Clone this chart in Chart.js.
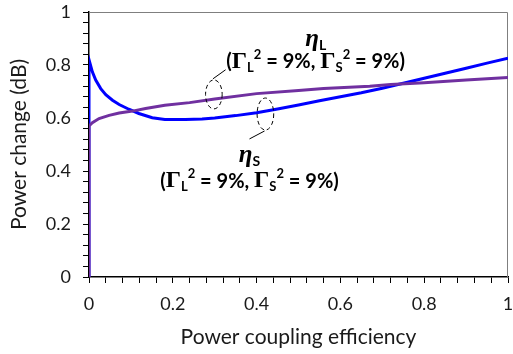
<!DOCTYPE html>
<html>
<head>
<meta charset="utf-8">
<script src="https://cdn.jsdelivr.net/npm/chart.js@4/dist/chart.umd.min.js"></script>
<style>
  html, body { margin: 0; padding: 0; background: #fff; }
  #wrap { width: 513px; height: 354px; }
</style>
</head>
<body>
<div id="wrap"><canvas id="chart" width="513" height="354"></canvas></div>
<script>
// η_S (blue): power change vs coupling efficiency
const etaSX = [0, 0, 0.008, 0.016, 0.028, 0.04, 0.056, 0.072, 0.095, 0.119, 0.151, 0.181, 0.23, 0.27, 0.3, 0.35, 0.4, 0.45, 0.5, 0.55, 0.6, 0.65, 0.7, 0.75, 0.8, 0.85, 0.9, 0.95, 1]
const etaSY = [0, 0.82, 0.774, 0.743, 0.711, 0.688, 0.667, 0.651, 0.633, 0.617, 0.601, 0.594, 0.594, 0.596, 0.600, 0.609, 0.620, 0.634, 0.649, 0.665, 0.680, 0.695, 0.712, 0.731, 0.750, 0.769, 0.788, 0.807, 0.826]

// η_L (purple)
const etaLX = [0, 0, 0.008, 0.024, 0.048, 0.072, 0.104, 0.135, 0.181, 0.24, 0.3, 0.4, 0.5, 0.56, 0.67, 0.72, 0.8, 0.9, 1]
const etaLY = [0, 0.570, 0.582, 0.598, 0.610, 0.619, 0.626, 0.636, 0.648, 0.658, 0.672, 0.692, 0.704, 0.711, 0.720, 0.726, 0.733, 0.743, 0.753]

const xMajorTicks = [0, 0.2, 0.4, 0.6, 0.8, 1]
const yMajorTicks = [0, 0.2, 0.4, 0.6, 0.8, 1]
const minorStep = 0.04

// callout labels, in data units
const calloutL = { text: [0.541, 0.895], line: [0.541, 0.812], ring: [0.298, 0.689], lead: [[0.296, 0.748], [0.326, 0.782]] }
const calloutS = { text: [0.383, 0.460], line: [0.383, 0.362], ring: [0.421, 0.615], lead: [[0.419, 0.551], [0.383, 0.521]] }

const FONT = 'Lato, "Open Sans", sans-serif'

const isMajor = (v, list) => list.some(m => Math.abs(m - v) < 1e-6)

// draws a run of [text, style] pieces centred on x
function richText(ctx, pieces, cx, cy) {
  const styles = {
    b:     { font: `bold 20px ${FONT}`, dy: 0 },
    g:     { font: 'bold 24px "Liberation Serif", serif', dy: 0 },
    sub:   { font: `bold 13px ${FONT}`, dy: 6 },
    sup:   { font: `bold 13px ${FONT}`, dy: -7 },
    eta:   { font: 'italic bold 25px "Liberation Serif", serif', dy: 0 },
    etaSub:{ font: `bold 14px ${FONT}`, dy: 6 },
  }
  let total = 0
  const widths = pieces.map(([t, s]) => {
    ctx.font = styles[s].font
    const w = ctx.measureText(t).width
    total += w
    return w
  })
  let x = cx - total / 2
  ctx.textBaseline = 'middle'
  ctx.textAlign = 'left'
  pieces.forEach(([t, s], i) => {
    ctx.font = styles[s].font
    ctx.fillText(t, x, cy + styles[s].dy)
    x += widths[i]
  })
}

function gammaPieces() {
  return [['(', 'b'], ['Γ', 'g'], ['L', 'sub'], ['2', 'sup'], [' = 9%, ', 'b'], ['Γ', 'g'], ['S', 'sub'], ['2', 'sup'], [' = 9%)', 'b']]
}

const frame = {
  id: 'frame',
  beforeDatasetsDraw(chart) {
    const { ctx, chartArea: a } = chart
    ctx.save()
    ctx.strokeStyle = '#7f7f7f'
    ctx.lineWidth = 1
    ctx.beginPath()
    ctx.moveTo(a.left, a.top + 0.5)
    ctx.lineTo(a.right - 0.5, a.top + 0.5)
    ctx.lineTo(a.right - 0.5, a.bottom)
    ctx.stroke()
    ctx.restore()
  },
}

const callouts = {
  id: 'callouts',
  afterDatasetsDraw(chart) {
    const { ctx, scales: { x, y } } = chart
    const px = p => [x.getPixelForValue(p[0]), y.getPixelForValue(p[1])]
    ctx.save()
    ctx.fillStyle = '#000'
    for (const [c, sub, ry] of [[calloutL, 'L', 14.5], [calloutS, 'S', 16]]) {
      const [tx, ty] = px(c.text)
      richText(ctx, [['η', 'eta'], [sub, 'etaSub']], tx, ty)
      const [lx, ly] = px(c.line)
      richText(ctx, gammaPieces(), lx, ly)

      ctx.strokeStyle = '#000'
      ctx.lineWidth = 1
      ctx.setLineDash([4, 3])
      const [ex, ey] = px(c.ring)
      ctx.beginPath()
      ctx.ellipse(ex, ey, 8.3, ry, 0, 0, Math.PI * 2)
      ctx.stroke()
      ctx.setLineDash([])
      const [a0, a1] = c.lead.map(px)
      ctx.beginPath()
      ctx.moveTo(a0[0], a0[1])
      ctx.lineTo(a1[0], a1[1])
      ctx.stroke()
    }
    ctx.restore()
  },
}

const toPoints = (xs, ys) => xs.map((v, i) => ({ x: v, y: ys[i] }))

new Chart(document.getElementById('chart').getContext('2d'), {
  type: 'scatter',
  data: {
    datasets: [
      {
        label: 'ηS',
        data: toPoints(etaSX, etaSY),
        showLine: true,
        borderColor: '#0000ff',
        borderWidth: 3,
        pointRadius: 0,
        tension: 0,
        order: 2,
      },
      {
        label: 'ηL',
        data: toPoints(etaLX, etaLY),
        showLine: true,
        borderColor: '#7030a0',
        borderWidth: 3,
        pointRadius: 0,
        tension: 0,
        order: 1,
      },
    ],
  },
  options: {
    responsive: false,
    animation: false,
    layout: { padding: { top: 12, right: 5, left: 0, bottom: 0 } },
    plugins: { legend: { display: false }, tooltip: { enabled: false } },
    scales: {
      x: {
        type: 'linear',
        min: 0,
        max: 1,
        afterFit: s => { s.height = 77; s.paddingLeft = 0; s.paddingRight = 0 },
        border: { color: '#000', width: 1.5 },
        grid: { drawOnChartArea: false, tickLength: 6, color: '#000' },
        ticks: {
          stepSize: minorStep,
          autoSkip: false,
          maxRotation: 0,
          padding: 10,
          color: '#1a1a1a',
          font: { family: FONT, size: 18 },
          callback: v => isMajor(v, xMajorTicks) ? String(+v.toFixed(1)) : '',
        },
        title: {
          display: true,
          text: 'Power coupling efficiency',
          color: '#1a1a1a',
          font: { family: FONT, size: 21 },
          padding: { top: 0, bottom: 4 },
        },
      },
      y: {
        type: 'linear',
        min: 0,
        max: 1,
        afterFit: s => { s.width = 89; s.paddingTop = 0; s.paddingBottom = 0 },
        border: { color: '#000', width: 1.5 },
        grid: { drawOnChartArea: false, tickLength: 6, color: '#000' },
        ticks: {
          stepSize: minorStep,
          autoSkip: false,
          padding: 12,
          color: '#1a1a1a',
          font: { family: FONT, size: 18 },
          callback: v => isMajor(v, yMajorTicks) ? String(+v.toFixed(1)) : '',
        },
        title: {
          display: true,
          text: 'Power change (dB)',
          color: '#1a1a1a',
          font: { family: FONT, size: 21 },
          padding: { top: 7, bottom: 0 },
        },
      },
    },
  },
  plugins: [frame, callouts],
})
</script>
</body>
</html>
